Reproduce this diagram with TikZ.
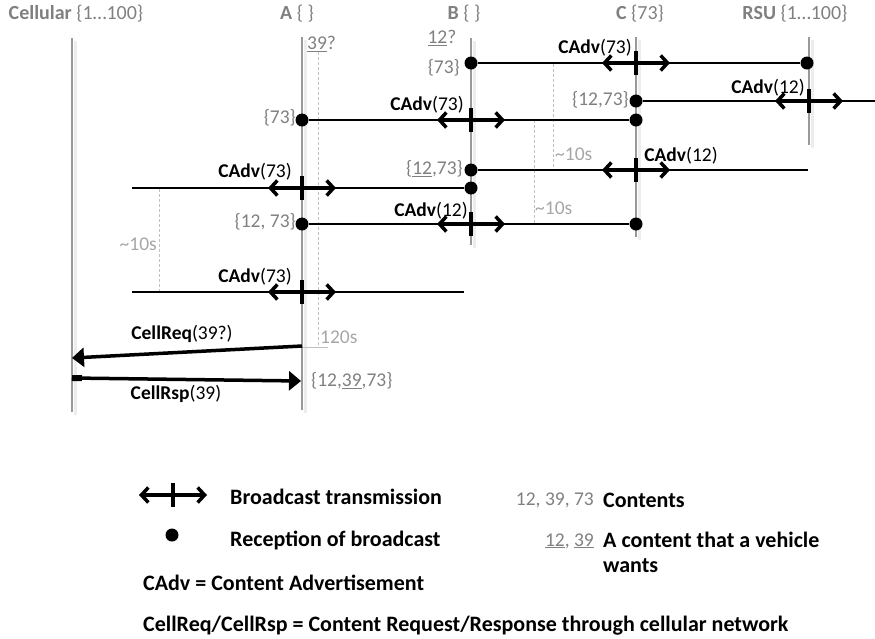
\documentclass[tikz,border=0pt]{standalone}
\usepackage{fontspec}
\setmainfont{Carlito}
\usetikzlibrary{arrows.meta,calc}
\definecolor{hdr}{HTML}{808080}
\definecolor{lite}{HTML}{A6A6A6}
\definecolor{dotl}{HTML}{C0C0C0}
\definecolor{life}{HTML}{999999}
\tikzset{
  lifeline/.style={draw=life, line width=2.6},
  lifeshadow/.style={draw=black!7, line width=3},
  msg/.style={draw=black, line width=1.3},
  rcv/.style={circle, fill=black, inner sep=0, minimum size=13},
  bcarrow/.style={{Straight Barb[length=7,width=15]}-{Straight Barb[length=7,width=15]}, line width=3.5},
  tickmark/.style={line width=4},
  bcast/.pic={\draw[bcarrow] (-34,0) -- (34,0); \draw[tickmark] (0,-12) -- (0,12);},
  lbl/.style={inner sep=0, font=\fontsize{19.5}{22}\selectfont},
  grey/.style={lbl, text=hdr},
  lgrey/.style={lbl, text=lite},
  hdrs/.style={inner sep=0, font=\fontsize{20}{22}\selectfont, text=hdr},
  legend/.style={inner sep=0, anchor=west, font=\fontsize{22}{25}\selectfont\bfseries},
  timing/.style={draw=dotl, line width=0.8, densely dashed},
  bigarrow/.style={draw=black, line width=3.5, -{Triangle[length=12,width=19]}},
}
\begin{document}
\begin{tikzpicture}[x=1pt,y=-1pt]
\useasboundingbox (0,0) rectangle (875,638);

% headers
\node[hdrs] (hC) at (76,14) {\textbf{Cellular} \{1…100\}};
\node[hdrs] (hA) at (297,14) {\textbf{A} \{ \}};
\node[hdrs] (hB) at (464,14) {\textbf{B} \{ \}};
\node[hdrs] (hCC) at (640,14) {\textbf{C} \{73\}};
\node[hdrs] (hR) at (795,14) {\textbf{RSU} \{1…100\}};

% lifelines
\coordinate (Lt) at (72,38);  \coordinate (Lb) at (72,412);
\coordinate (At) at (302,37); \coordinate (Ab) at (302,410);
\coordinate (Bt) at (471,38); \coordinate (Bb) at (471,245);
\coordinate (Ct) at (636,37); \coordinate (Cb) at (636,237);
\coordinate (Rt) at (809,37); \coordinate (Rb) at (809,145);
\foreach \p in {L,A,B,C,R}{
  \draw[lifeshadow] ($(\p t)+(3,3)$) -- ($(\p b)+(3,3)$);
  \draw[lifeline] (\p t) -- (\p b);
}

% timing marks
\draw[timing] (318,52) -- (318,347);
\draw[draw=dotl, line width=1] (303,347) -- (328,347);
\draw[timing] (553,64) -- (553,169);
\draw[timing] (534,120) -- (534,223);
\draw[timing] (159,189) -- (159,292);

% reception dots
\node[rcv] (d1B) at (471,63) {};
\node[rcv] (d1R) at (807,63) {};
\node[rcv] (d2C) at (636,101) {};
\coordinate (e2) at (875,101);
\node[rcv] (d3A) at (302,120) {};
\node[rcv] (d3C) at (636,120) {};
\node[rcv] (d4B) at (471,170) {};
\coordinate (e4) at (808,170);
\coordinate (s5) at (132,188);
\node[rcv] (d5B) at (471,188) {};
\node[rcv] (d6A) at (302,224) {};
\node[rcv] (d6C) at (636,224) {};
\coordinate (s7) at (132,292);
\coordinate (e7) at (464,292);

% messages
\draw[msg] (d1B) -- (d1R);
\draw[msg] (d2C) -- (e2);
\draw[msg] (d3A) -- (d3C);
\draw[msg] (d4B) -- (e4);
\draw[msg] (s5) -- (d5B);
\draw[msg] (d6A) -- (d6C);
\draw[msg] (s7) -- (e7);

% broadcasts
\pic at (Ct |- d1B) {bcast};
\pic at (Rt |- d2C) {bcast};
\pic at (Bt |- d3A) {bcast};
\pic at (Ct |- d4B) {bcast};
\pic at (At |- d5B) {bcast};
\pic at (Bt |- d6A) {bcast};
\pic at (At |- s7) {bcast};

% message labels
\node[lbl] (m1) at (595,48) {\textbf{CAdv}(73)};
\node[lbl] (m2) at (768,88) {\textbf{CAdv}(12)};
\node[lbl] (m3) at (427,105) {\textbf{CAdv}(73)};
\node[lbl] (m4) at (681,156) {\textbf{CAdv}(12)};
\node[lbl] (m5) at (255,172) {\textbf{CAdv}(73)};
\node[lbl] (m6) at (431,211) {\textbf{CAdv}(12)};
\node[lbl] (m7) at (255,277) {\textbf{CAdv}(73)};

% cellular
\coordinate (rqS) at (302,346);
\coordinate (rqE) at (72,358);
\draw[bigarrow] (rqS) -- (rqE);
\coordinate (rsS) at (72,378);
\coordinate (rsE) at (301,381);
\draw[bigarrow] (rsS) -- (rsE);
\draw[line width=6] (rsS) -- ($(rsS)!10pt!(rsE)$);
\node[lbl] (mrq) at (182,334) {\textbf{CellReq}(39?)};
\node[lbl] (mrs) at (176,394) {\textbf{CellRsp}(39)};

% state labels
\node[grey, anchor=west] (s39) at (307,44) {\underline{39}?};
\node[grey] (s12) at (442,38) {\underline{12}?};
\node[grey, anchor=east] (sB1) at (460,68) {\{73\}};
\node[grey, anchor=east] (sC1) at (629,100) {\{12,73\}};
\node[grey, anchor=east] (sA1) at (296,118) {\{73\}};
\node[grey, anchor=east] (sB2) at (463,169) {\{\underline{12},73\}};
\node[grey, anchor=east] (sA2) at (296,222) {\{12, 73\}};
\node[grey, anchor=west] (sA3) at (311,381) {\{12,\underline{39},73\}};
\node[lgrey, anchor=west] (t120) at (320,337) {120s};
\node[lgrey, anchor=west] (t1) at (555,154) {\textasciitilde10s};
\node[lgrey, anchor=west] (t2) at (535,208) {\textasciitilde10s};
\node[lgrey, anchor=east] (t3) at (157,244) {\textasciitilde10s};

% legend
\coordinate (lgB) at (173,495);
\pic at (lgB) {bcast};
\node[rcv] (lgD) at (172,535) {};
\node[legend] (lg1) at (230,497) {Broadcast transmission};
\node[legend] (lg2) at (230,540) {Reception of broadcast};
\node[legend] (lg3) at (143,583) {CAdv = Content Advertisement};
\node[legend] (lg4) at (143,626) {CellReq/CellRsp = Content Request/Response through cellular network};
\node[grey, anchor=east] (lg5n) at (594,500) {12, 39, 73};
\node[legend] (lg5) at (603,500) {Contents};
\node[grey, anchor=east] (lg6n) at (594,541) {\underline{12}, \underline{39}};
\node[legend, anchor=north west, align=left] (lg6) at (603,532) {A content that a vehicle\\wants};
\end{tikzpicture}
\end{document}
